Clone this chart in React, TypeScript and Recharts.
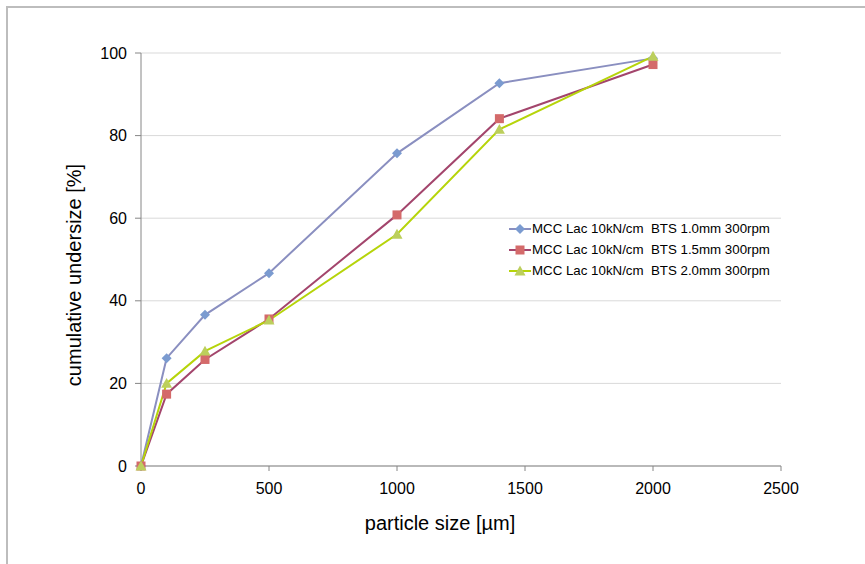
import React from 'react';
import { LineChart, Line, XAxis, YAxis, CartesianGrid, Label } from 'recharts';

const particleSizes = [0, 100, 250, 500, 1000, 1400, 2000];
const bts10 = [0, 26.1, 36.6, 46.7, 75.7, 92.7, 98.7];
const bts15 = [0, 17.4, 25.8, 35.6, 60.8, 84.1, 97.2];
const bts20 = [0, 20.0, 27.8, 35.3, 56.1, 81.5, 99.2];
const xTicks = [0, 500, 1000, 1500, 2000, 2500];
const yTicks = [0, 20, 40, 60, 80, 100];
const seriesNames = [
  'MCC Lac 10kN/cm  BTS 1.0mm 300rpm',
  'MCC Lac 10kN/cm  BTS 1.5mm 300rpm',
  'MCC Lac 10kN/cm  BTS 2.0mm 300rpm',
];
const xTitle = 'particle size [µm]';
const yTitle = 'cumulative undersize [%]';

const data = particleSizes.map((x, i) => ({ x, s1: bts10[i], s2: bts15[i], s3: bts20[i] }));

const FONT = '"Liberation Sans", Arial, sans-serif';

const styles = [
  { line: '#8a8fc0', dot: '#7b9bd0', shape: 'diamond' },
  { line: '#a3456c', dot: '#d46a6a', shape: 'square' },
  { line: '#b6d40a', dot: '#bccf5c', shape: 'triangle' },
];

function Marker({ cx, cy, shape, fill }: { cx: number; cy: number; shape: string; fill: string }) {
  if (cx == null || cy == null || isNaN(cx) || isNaN(cy)) return null;
  if (shape === 'diamond') {
    const r = 5;
    return <path d={`M${cx},${cy - r}L${cx + r},${cy}L${cx},${cy + r}L${cx - r},${cy}Z`} fill={fill} />;
  }
  if (shape === 'square') {
    const r = 4.5;
    return <rect x={cx - r} y={cy - r} width={2 * r} height={2 * r} fill={fill} />;
  }
  const r = 5.5;
  return <path d={`M${cx},${cy - r}L${cx + r},${cy + r * 0.8}L${cx - r},${cy + r * 0.8}Z`} fill={fill} />;
}

const makeDot = (idx: number) => (p: any) => (
  <Marker key={`dot-${idx}-${p.index}`} cx={p.cx} cy={p.cy} shape={styles[idx].shape} fill={styles[idx].dot} />
);

const LegendBox = () => (
  <div style={{ position: 'absolute', left: 508, top: 218, fontFamily: FONT, fontSize: 13.3, color: '#000' }}>
    {seriesNames.map((name, i) => (
      <div key={name} style={{ display: 'flex', alignItems: 'center', height: 21 }}>
        <svg width={24} height={14} style={{ display: 'block' }}>
          <line x1={1} y1={7} x2={23} y2={7} stroke={styles[i].line} strokeWidth={2} />
          <Marker cx={12} cy={7} shape={styles[i].shape} fill={styles[i].dot} />
        </svg>
        <span style={{ whiteSpace: 'pre' }}>{name}</span>
      </div>
    ))}
  </div>
);

export default function App() {
  return (
    <div style={{ position: 'absolute', left: 0, top: 0, width: 865, height: 564, overflow: 'hidden', background: '#fff' }}>
      <div
        style={{
          position: 'absolute',
          left: 6,
          top: 6,
          width: 900,
          height: 600,
          borderLeft: '2px solid #bdbdbd',
          borderTop: '2px solid #bdbdbd',
        }}
      />
      <div style={{ position: 'absolute', left: 0, top: 0 }}>
        <LineChart
          width={865}
          height={564}
          data={data}
          margin={{ top: 53, right: 84, left: 0, bottom: 0 }}
          style={{ fontFamily: FONT }}
        >
          <CartesianGrid vertical={false} stroke="#d9d9d9" strokeWidth={1} />
          <XAxis
            dataKey="x"
            type="number"
            domain={[0, 2500]}
            ticks={xTicks}
            height={98}
            stroke="#868686"
            tickSize={5}
            tickMargin={12}
            tick={{ fill: '#000', fontSize: 16, fontFamily: FONT }}
          >
            <Label
              content={(props: any) => {
                const vb = props.viewBox || {};
                return (
                  <text x={vb.x + vb.width / 2 - 21} y={530} textAnchor="middle" fontSize={20} fontFamily={FONT} fill="#000">
                    {xTitle}
                  </text>
                );
              }}
            />
          </XAxis>
          <YAxis
            type="number"
            domain={[0, 100]}
            ticks={yTicks}
            width={141}
            stroke="#868686"
            tickSize={6}
            tickMargin={8}
            tick={{ fill: '#000', fontSize: 16, fontFamily: FONT }}
          >
            <Label
              content={() => (
                <text
                  x={74}
                  y={275}
                  transform="rotate(-90, 74, 275)"
                  textAnchor="middle"
                  dominantBaseline="central"
                  fontSize={20}
                  fontFamily={FONT}
                  fill="#000"
                >
                  {yTitle}
                </text>
              )}
            />
          </YAxis>
          <Line dataKey="s1" name={seriesNames[0]} stroke={styles[0].line} strokeWidth={2} dot={makeDot(0)} activeDot={false} isAnimationActive={false} />
          <Line dataKey="s2" name={seriesNames[1]} stroke={styles[1].line} strokeWidth={2} dot={makeDot(1)} activeDot={false} isAnimationActive={false} />
          <Line dataKey="s3" name={seriesNames[2]} stroke={styles[2].line} strokeWidth={2} dot={makeDot(2)} activeDot={false} isAnimationActive={false} />
        </LineChart>
      </div>
      <LegendBox />
    </div>
  );
}
